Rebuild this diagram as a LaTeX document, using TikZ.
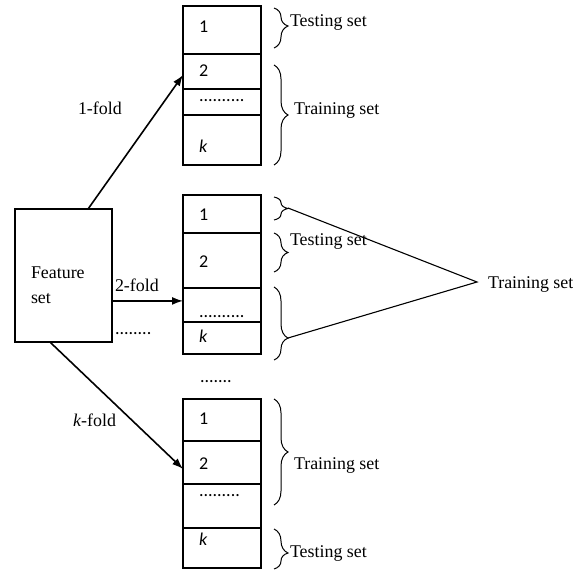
\documentclass[tikz,border=0pt]{standalone}
\usepackage{fontspec}
\setmainfont{Liberation Serif}
\newfontfamily\cellfont{Carlito}
\usetikzlibrary{arrows.meta,calc,decorations.pathreplacing}

\begin{document}
\begin{tikzpicture}[x=1pt,y=-1pt,
  every node/.style={inner sep=0pt,outer sep=0pt},
  cell/.style={draw,line width=1.2pt,minimum width=78pt,anchor=north west},
  featbox/.style={draw,line width=1.2pt,anchor=north west,minimum width=97pt,minimum height=133pt},
  lbl/.style={anchor=base west,font=\fontsize{17.9}{20}\selectfont},
  num/.style={anchor=base west,font=\cellfont\fontsize{18}{20}\selectfont},
  fold/.style={-{Latex[length=11pt,width=8pt]},line width=1.6pt},
  brc/.style={decorate,decoration={brace,amplitude=14pt},line width=1pt},
  tie/.style={line width=1.1pt}]
\useasboundingbox (0,0) rectangle (573,572);

% feature set
\node[featbox] (feat) at (15,209) {};
\node[lbl] (feattxt) at (31,279) {Feature};
\node[lbl] (feattxt2) at (31,303) {set};

% fold 1
\node[cell,minimum height=48pt] (a1) at (183,6) {};
\node[cell,minimum height=35pt] (a2) at (183,54) {};
\node[cell,minimum height=26pt] (a3) at (183,89) {};
\node[cell,minimum height=50pt] (a4) at (183,115) {};
\node[num] (a1t) at (199,33) {1};
\node[num] (a2t) at (199,77) {2};
\node[num] (a3t) at (199,102) {..........};
\node[num] (a4t) at (199,153) {\itshape k};

% fold 2
\node[cell,minimum height=38pt] (b1) at (183,195) {};
\node[cell,minimum height=55pt] (b2) at (183,233) {};
\node[cell,minimum height=34pt] (b3) at (183,288) {};
\node[cell,minimum height=32pt] (b4) at (183,322) {};
\node[num] (b1t) at (199,221) {1};
\node[num] (b2t) at (199,267) {2};
\node[num] (b3t) at (199,317) {..........};
\node[num] (b4t) at (199,342) {\itshape k};

% fold k
\node[cell,minimum height=42pt] (c1) at (183,399) {};
\node[cell,minimum height=43pt] (c2) at (183,441) {};
\node[cell,minimum height=44pt] (c3) at (183,484) {};
\node[cell,minimum height=40pt] (c4) at (183,528) {};
\node[num] (c1t) at (199,424) {1};
\node[num] (c2t) at (199,469) {2};
\node[num] (c3t) at (199,496) {.........};
\node[num] (c4t) at (199,545) {\itshape k};

% fold arrows
\coordinate (f1s) at ($(feat.north west)!0.753!(feat.north east)$);
\coordinate (f1e) at ($(a2.north west)!0.6!(a2.south west)$);
\draw[fold] (f1s) -- (f1e);
\coordinate (f2e) at ($(b3.north west)!0.38!(b3.south west)$);
\draw[fold] (f2e -| feat.east) -- (f2e);
\coordinate (fks) at ($(feat.south west)!0.36!(feat.south east)$);
\coordinate (fke) at ($(c2.north west)!0.65!(c2.south west)$);
\draw[fold] (fks) -- (fke);

\node[lbl] (l1) at (78,115) {1-fold};
\node[lbl] (l2) at (115,291) {2-fold};
\node[lbl] (lk) at (73,426) {\textit{k}-fold};
\node[num] (ldots) at (115,334) {........};
\node[num] (mdots) at (200,382) {.......};

% braces, fold 1
\draw[brc,decoration={aspect=0.45}] (274,8) -- (274,48);
\draw[brc] (274,65) -- (274,165);
\node[lbl] (a1s) at (290,27) {Testing set};
\node[lbl] (a2s) at (294,115) {Training set};

% braces, fold 2
\draw[brc] (274,197) -- (274,220);
\draw[brc] (274,233) -- (274,272);
\draw[brc,decoration={aspect=0.7}] (274,287) -- (274,360);
\coordinate (t1) at (288,208);
\coordinate (t3) at (288,338);
\coordinate (apex) at (477,282);
\draw[tie] (t1) -- (apex) -- (t3);
\node[lbl] (b2s) at (290,246) {Testing set};
\node[lbl] (btr) at (488,288) {Training set};

% braces, fold k
\draw[brc] (274,399) -- (274,505);
\draw[brc,decoration={aspect=0.6}] (274,529) -- (274,569);
\node[lbl] (c1s) at (294,469) {Training set};
\node[lbl] (c4s) at (290,557) {Testing set};
\end{tikzpicture}
\end{document}
